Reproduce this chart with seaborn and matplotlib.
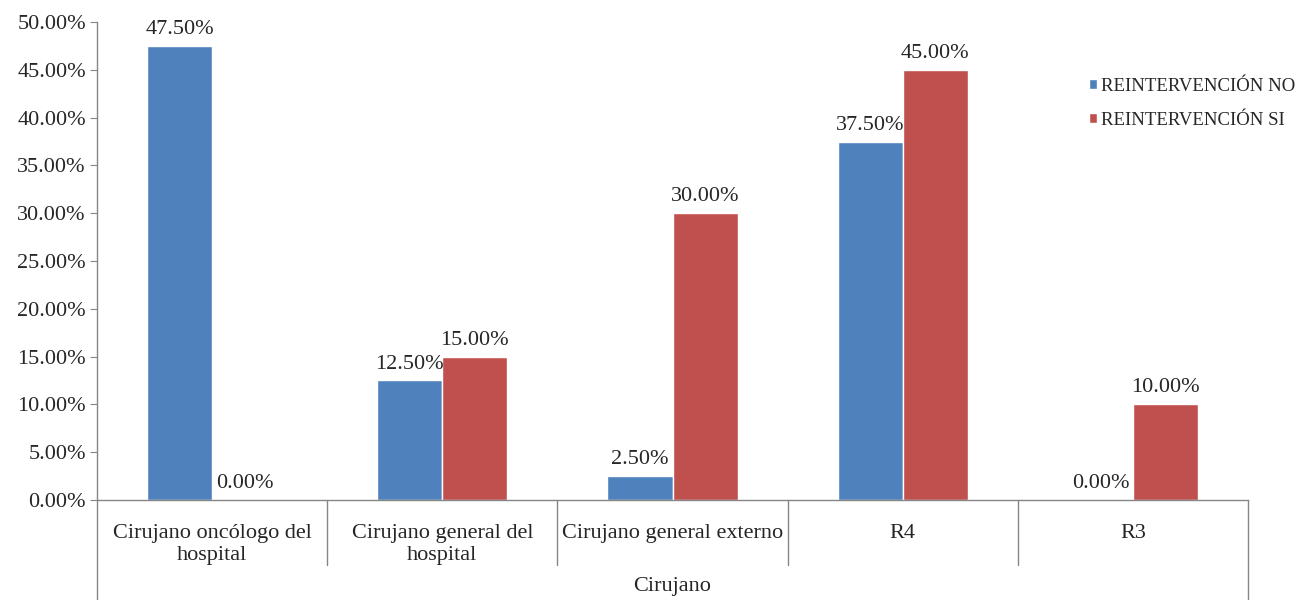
import numpy as np
import pandas as pd
import matplotlib
matplotlib.use("Agg")
import matplotlib.pyplot as plt
import seaborn as sns

# ---------------- data ----------------
categories = ["Cirujano oncólogo del\nhospital", "Cirujano general del\nhospital",
              "Cirujano general externo", "R4", "R3"]
series_names = ["REINTERVENCIÓN NO", "REINTERVENCIÓN SI"]
reint_no = [47.5, 12.5, 2.5, 37.5, 0.0]
reint_si = [0.0, 15.0, 30.0, 45.0, 10.0]
colors = ["#4F81BD", "#C0504D"]

df = pd.DataFrame({
    "cat": categories * 2,
    "serie": [series_names[0]] * len(categories) + [series_names[1]] * len(categories),
    "valor": reint_no + reint_si,
})

# ---------------- plot ----------------
sns.set_style("white")
plt.rcParams["font.family"] = ["Liberation Serif", "DejaVu Serif"]

fig = plt.figure(figsize=(13.14, 6), dpi=100)
ax = fig.add_axes([0.0738, 0.1667, 0.876, 0.7966])

sns.barplot(data=df, x="cat", y="valor", hue="serie", palette=colors,
            width=0.565, gap=0, saturation=1, ax=ax, legend=True)

ax.set_ylim(0, 50)
ax.set_xlim(-0.5, len(categories) - 0.5)
ax.set_yticks(np.arange(0, 50.1, 5))
ax.set_yticklabels([f"{v:.2f}%" for v in np.arange(0, 50.1, 5)], fontsize=16)
ax.set_xticks(range(len(categories)))
ax.set_xticklabels(categories, fontsize=16, linespacing=1.25, va="top")
ax.tick_params(axis="x", length=0, pad=17)
ax.tick_params(axis="y", length=5, color="#868686", direction="out", left=True, pad=3)
ax.set_xlabel("")
ax.set_ylabel("")

for s in ["top", "right"]:
    ax.spines[s].set_visible(False)
for s in ["left", "bottom"]:
    ax.spines[s].set_color("#868686")
    ax.spines[s].set_linewidth(1)

# bar value labels
for cont in ax.containers:
    ax.bar_label(cont, labels=[f"{v:.2f}%" for v in cont.datavalues],
                 fontsize=16, padding=5)

# multi-level category axis lines
trans = ax.get_xaxis_transform()
gray = "#868686"
ax.plot([-0.5, -0.5], [0, -0.21], transform=trans, color=gray, lw=1, clip_on=False)
ax.plot([len(categories) - 0.5] * 2, [0, -0.21], transform=trans, color=gray, lw=1, clip_on=False)
for b in np.arange(0.5, len(categories) - 0.5):
    ax.plot([b, b], [0, -0.136], transform=trans, color=gray, lw=1, clip_on=False)

ax.text(2, -0.181, "Cirujano", transform=trans, ha="center", va="center", fontsize=16)

leg = ax.legend(loc="upper left", bbox_to_anchor=(0.855, 0.899), frameon=False,
                fontsize=13.5, handlelength=0.45, handleheight=0.45, handletextpad=0.2,
                labelspacing=0.9, borderaxespad=0)
leg.set_title(None)

fig.savefig("out.png", dpi=100)
